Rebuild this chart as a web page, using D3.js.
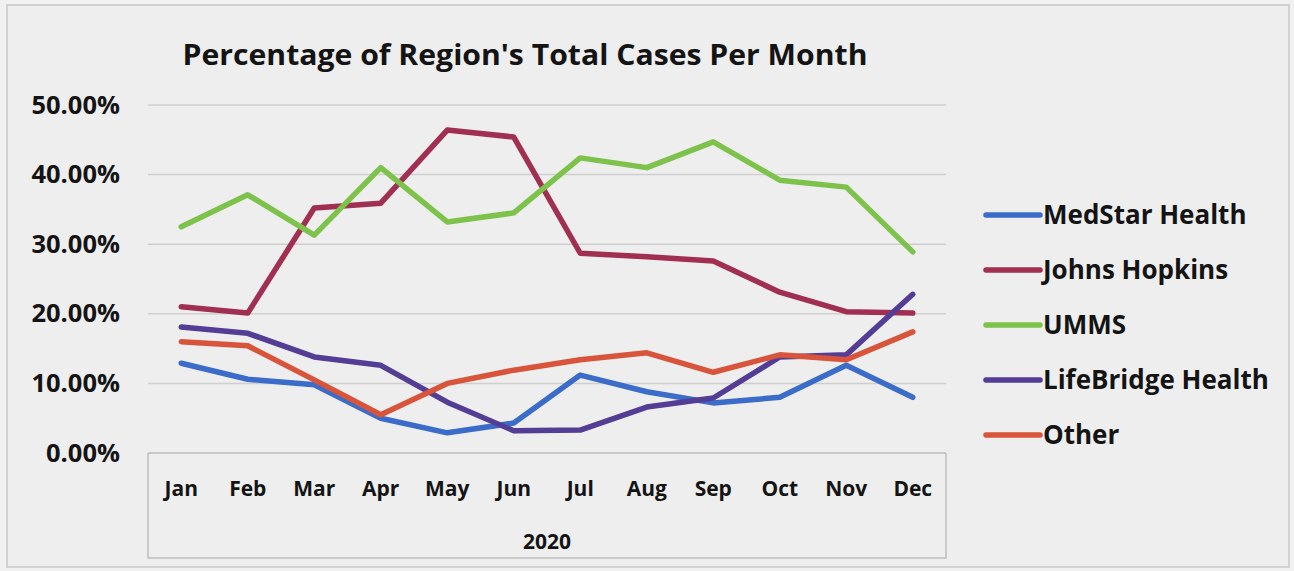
<!DOCTYPE html>
<html><head><meta charset="utf-8">
<script src="https://cdn.jsdelivr.net/npm/d3@7/dist/d3.min.js"></script>
<style>
html,body{margin:0;padding:0;background:#f1f1f1;}
svg{display:block;}
text{font-family:"Open Sans",Lato,sans-serif;font-weight:700;fill:#141414;}
</style></head>
<body>
<svg id="chart" width="1294" height="571"></svg>
<script>
const months = ["Jan","Feb","Mar","Apr","May","Jun","Jul","Aug","Sep","Oct","Nov","Dec"];
const yTicks = [0, 0.1, 0.2, 0.3, 0.4, 0.5];
const seriesNames = ["MedStar Health","Johns Hopkins","UMMS","LifeBridge Health","Other"];
const medstar    = [0.129,0.106,0.098,0.050,0.029,0.043,0.112,0.088,0.072,0.080,0.126,0.080];
const hopkins    = [0.210,0.201,0.352,0.359,0.464,0.454,0.287,0.282,0.276,0.231,0.203,0.201];
const umms       = [0.325,0.371,0.313,0.410,0.332,0.345,0.424,0.410,0.447,0.392,0.382,0.289];
const lifebridge = [0.181,0.172,0.138,0.126,0.073,0.032,0.033,0.066,0.079,0.138,0.141,0.228];
const other      = [0.160,0.154,0.105,0.055,0.100,0.119,0.134,0.144,0.116,0.141,0.134,0.174];
const colors = ["#3b6cc9","#a12f52","#7dc24b","#533d95","#d8543a"];
const seriesValues = [medstar, hopkins, umms, lifebridge, other];

const FONT = "'Open Sans', Lato, sans-serif";
const svg = d3.select("#chart");
// outer frame
svg.append("rect").attr("x",7).attr("y",5).attr("width",1282).attr("height",562)
  .attr("fill","#eeeeee").attr("stroke","#c8c8c8").attr("stroke-width",1.5);

const pLeft = 148, pRight = 946, pTop = 105, pBottom = 453;
const x = d3.scaleBand().domain(months).range([pLeft, pRight]);
const y = d3.scaleLinear().domain([0, 0.5]).range([pBottom, pTop]);

// gridlines
const grid = svg.append("g");
grid.selectAll("line").data(yTicks).join("line")
  .attr("x1", pLeft).attr("x2", pRight)
  .attr("y1", d => y(d)).attr("y2", d => y(d))
  .attr("stroke", "#cfcfcf").attr("stroke-width", 1.5);

// y axis labels
const yAxis = d3.axisLeft(y).tickValues(yTicks).tickFormat(d3.format(".2%")).tickSize(0).tickPadding(0);
const ya = svg.append("g").attr("transform", `translate(120,0)`).call(yAxis);
ya.select(".domain").remove();
ya.selectAll("text").attr("font-size", 25.5).attr("font-family",FONT).attr("font-weight",700).attr("fill","#141414");

// category axis box
svg.append("path")
  .attr("d", `M${pLeft},${pBottom} V558 H${pRight} V${pBottom}`)
  .attr("fill","none").attr("stroke","#bdbdbd").attr("stroke-width",1.5);
svg.append("line").attr("x1",pLeft).attr("x2",pRight).attr("y1",pBottom).attr("y2",pBottom)
  .attr("stroke","#c4c4c4").attr("stroke-width",1.5);

const xAxis = d3.axisBottom(x).tickSize(0).tickPadding(0);
const xa = svg.append("g").attr("transform", `translate(0,${pBottom + 28})`).call(xAxis);
xa.select(".domain").remove();
xa.selectAll("text").attr("font-size", 21).attr("font-family",FONT).attr("font-weight",700).attr("fill","#141414");

svg.append("text").attr("x", (pLeft+pRight)/2).attr("y", 549).attr("text-anchor","middle")
  .attr("font-size", 21).text("2020");

// lines
const line = d3.line().x((d,i) => x(months[i]) + x.bandwidth()/2).y(d => y(d));
svg.append("g").selectAll("path").data(seriesValues).join("path")
  .attr("d", d => line(d))
  .attr("fill","none")
  .attr("stroke", (d,i) => colors[i])
  .attr("stroke-width", 5.5)
  .attr("stroke-linejoin","round")
  .attr("stroke-linecap","round");

// title
svg.append("text").attr("x", 525).attr("y", 65).attr("text-anchor","middle")
  .attr("font-size", 29).attr("font-weight",700)
  .attr("textLength", 685).attr("lengthAdjust","spacingAndGlyphs")
  .text("Percentage of Region's Total Cases Per Month");

// legend
const lg = svg.append("g");
const rows = lg.selectAll("g").data(seriesNames).join("g")
  .attr("transform", (d,i) => `translate(0,${215 + i*55})`);
rows.append("line").attr("x1", 986).attr("x2", 1040).attr("y1", 0).attr("y2", 0)
  .attr("stroke", (d,i) => colors[i]).attr("stroke-width", 5.5).attr("stroke-linecap","round");
rows.append("text").attr("x", 1043).attr("y", 0).attr("dy","0.36em")
  .attr("font-size", 26).text(d => d);
</script>
</body></html>
